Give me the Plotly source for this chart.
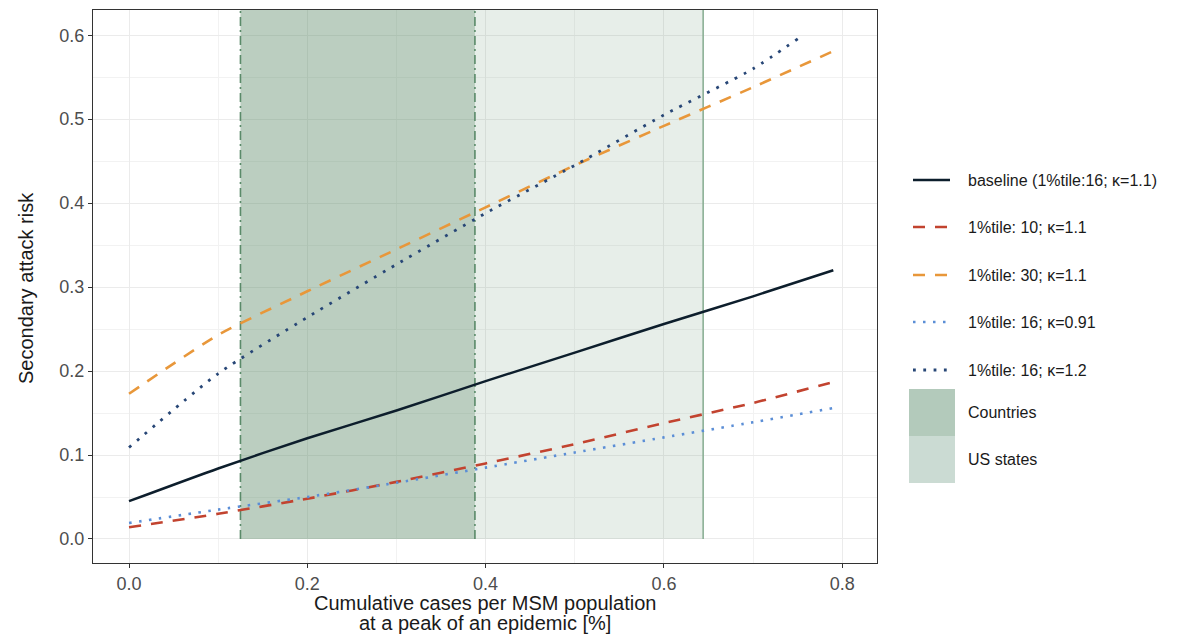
import plotly.graph_objects as go

# ---------------- data ----------------
x_common = [0.0, 0.1, 0.2, 0.3, 0.4, 0.5, 0.6, 0.7, 0.79]
baseline = [0.045, 0.084, 0.120, 0.153, 0.188, 0.222, 0.256, 0.289, 0.320]
p10_k11 = [0.014, 0.030, 0.048, 0.068, 0.090, 0.113, 0.138, 0.162, 0.187]
p30_k11 = [0.173, 0.243, 0.295, 0.345, 0.395, 0.445, 0.492, 0.538, 0.581]
p16_k091 = [0.019, 0.035, 0.050, 0.067, 0.085, 0.103, 0.121, 0.139, 0.156]
x_k12 = [0.0, 0.1, 0.2, 0.3, 0.4, 0.5, 0.6, 0.7, 0.752]
p16_k12 = [0.109, 0.197, 0.264, 0.327, 0.388, 0.445, 0.505, 0.560, 0.597]

countries_range = [0.125, 0.388]
us_states_range = [0.125, 0.644]

series_names = ["baseline (1%tile:16; κ=1.1)", "1%tile: 10; κ=1.1", "1%tile: 30; κ=1.1",
                "1%tile: 16; κ=0.91", "1%tile: 16; κ=1.2"]
region_names = ["Countries", "US states"]

x_ticks = [0.0, 0.2, 0.4, 0.6, 0.8]
x_tick_text = ["0.0", "0.2", "0.4", "0.6", "0.8"]
y_ticks = [0.0, 0.1, 0.2, 0.3, 0.4, 0.5, 0.6]
y_tick_text = ["0.0", "0.1", "0.2", "0.3", "0.4", "0.5", "0.6"]

x_title_lines = ["Cumulative cases per MSM population", "at a peak of an epidemic [%]"]
y_title = "Secondary attack risk"

# ---------------- styles ----------------
colors = ["#0d1e2c", "#c2432f", "#e8973a", "#5b8ed6", "#274676"]
dashes = ["solid", "12px,10px", "12px,10px", "2.5px,7.5px", "2.8px,7.5px"]
widths = [2.5, 2.6, 2.6, 2.6, 2.8]

FONT = "Liberation Sans, Arial, sans-serif"

fig = go.Figure()

xs = [x_common, x_common, x_common, x_common, x_k12]
ys = [baseline, p10_k11, p30_k11, p16_k091, p16_k12]
for name, xx, yy, c, d, w in zip(series_names, xs, ys, colors, dashes, widths):
    fig.add_trace(go.Scatter(x=xx, y=yy, mode="lines", name=name,
                             line=dict(color=c, dash=d, width=w, shape="spline", smoothing=0.6),
                             showlegend=False, hoverinfo="skip"))

# shaded regions (from y=0 upward)
shapes = []
shapes.append(dict(type="rect", xref="x", yref="y", x0=us_states_range[0], x1=us_states_range[1],
                   y0=0, y1=0.7, fillcolor="rgba(94,140,106,0.15)", line=dict(width=0), layer="between"))
shapes.append(dict(type="rect", xref="x", yref="y", x0=countries_range[0], x1=countries_range[1],
                   y0=0, y1=0.7, fillcolor="rgba(94,140,106,0.32)", line=dict(width=0), layer="between"))
for xv in countries_range:
    shapes.append(dict(type="line", xref="x", yref="y", x0=xv, x1=xv, y0=0, y1=0.7,
                       line=dict(color="#5a8a69", width=1.6, dash="9px,4px,2px,4px"), layer="between"))
shapes.append(dict(type="line", xref="x", yref="y", x0=us_states_range[1], x1=us_states_range[1],
                   y0=0, y1=0.7, line=dict(color="#8cb096", width=1.6), layer="between"))

# ---------------- manual legend (paper coords from pixels) ----------------
L, R, T, B = 93, 877, 10, 563
def px(x):
    return (x - L) / (R - L)
def py(y):
    return (B - y) / (B - T)

annotations = []
leg_y = [180, 227, 275, 322, 370]
for name, c, d, w, yy in zip(series_names, colors, dashes, widths, leg_y):
    shapes.append(dict(type="line", xref="paper", yref="paper", x0=px(913), x1=px(950),
                       y0=py(yy), y1=py(yy), line=dict(color=c, dash=d, width=w)))
    annotations.append(dict(xref="paper", yref="paper", x=px(966), y=py(yy), text=name,
                            showarrow=False, xanchor="left", yanchor="middle",
                            font=dict(family=FONT, size=16, color="#1a1a1a")))

box_colors = ["#b3cabb", "#cbdbd3"]
box_tops = [389, 436]
for name, c, top in zip(region_names, box_colors, box_tops):
    shapes.append(dict(type="rect", xref="paper", yref="paper", x0=px(909), x1=px(955),
                       y0=py(top + 47), y1=py(top), fillcolor=c, line=dict(width=0)))
    annotations.append(dict(xref="paper", yref="paper", x=px(966), y=py(top + 23.5), text=name,
                            showarrow=False, xanchor="left", yanchor="middle",
                            font=dict(family=FONT, size=16, color="#1a1a1a")))

# axis titles
for line_text, yc in zip(x_title_lines, [603, 623]):
    annotations.append(dict(xref="paper", yref="paper", x=0.5, y=py(yc), showarrow=False,
                            text=line_text, xanchor="center", yanchor="middle",
                            font=dict(family=FONT, size=20, color="#1a1a1a")))
annotations.append(dict(xref="paper", yref="paper", x=px(26), y=py(288), showarrow=False,
                        text=y_title, textangle=-90,
                        xanchor="center", yanchor="middle",
                        font=dict(family=FONT, size=20, color="#1a1a1a")))

fig.update_layout(
    width=1190, height=637,
    margin=dict(l=L, r=1190 - R, t=T, b=637 - B),
    paper_bgcolor="white", plot_bgcolor="white",
    shapes=shapes, annotations=annotations,
    showlegend=False,
    font=dict(family=FONT),
)

fig.update_xaxes(range=[-0.0404, 0.839], tickvals=x_ticks, ticktext=x_tick_text,
                 showgrid=True, gridcolor="#ebebeb", gridwidth=1.2,
                 minor=dict(dtick=0.1, tick0=0, showgrid=True, gridcolor="#f2f2f2", gridwidth=0.8),
                 ticks="outside", ticklen=4, tickcolor="#333333", tickwidth=1.2,
                 tickfont=dict(family=FONT, size=18, color="#4d4d4d"),
                 showline=True, linecolor="#333333", linewidth=1.2, mirror=True, zeroline=False)
fig.update_yaxes(range=[-0.0286, 0.63], tickvals=y_ticks, ticktext=y_tick_text,
                 showgrid=True, gridcolor="#ebebeb", gridwidth=1.2,
                 minor=dict(dtick=0.05, tick0=0, showgrid=True, gridcolor="#f2f2f2", gridwidth=0.8),
                 ticks="outside", ticklen=4, tickcolor="#333333", tickwidth=1.2,
                 tickfont=dict(family=FONT, size=18, color="#4d4d4d"),
                 showline=True, linecolor="#333333", linewidth=1.2, mirror=True, zeroline=False)

fig.write_html("out.html")
